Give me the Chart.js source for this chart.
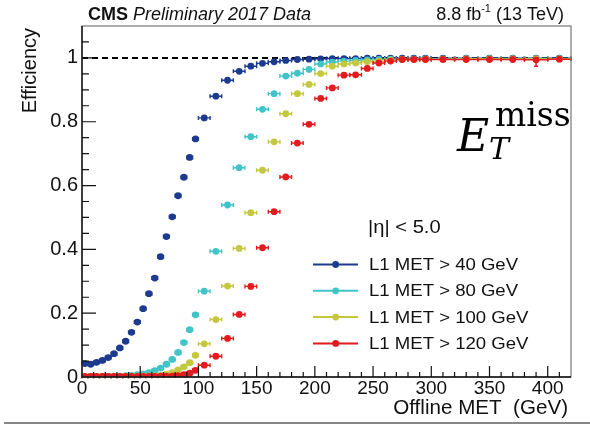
<!DOCTYPE html>
<html>
<head>
<meta charset="utf-8">
<script src="https://cdn.jsdelivr.net/npm/chart.js@4.4.1/dist/chart.umd.min.js"></script>
<style>
  html, body { margin: 0; padding: 0; background: #fff; }
</style>
</head>
<body>
<canvas id="eff" width="590" height="429"></canvas>
<script>
// ===== Turn-on data: L1 MET trigger efficiency vs offline MET =====
const metBins = [
  2.5, 7.5, 12.5, 17.5, 22.5, 27.5, 32.5, 37.5, 42.5, 47.5,
  52.5, 57.5, 62.5, 67.5, 72.5, 77.5, 82.5, 87.5, 92.5, 97.5,
  105, 115, 125, 135, 145, 155, 165, 175, 185, 195,
  205, 215, 225, 235, 245, 255, 265, 275, 285, 295,
  310, 330, 350, 370, 390, 410
];
const metHalfWidth = [
  2.5, 2.5, 2.5, 2.5, 2.5, 2.5, 2.5, 2.5, 2.5, 2.5,
  2.5, 2.5, 2.5, 2.5, 2.5, 2.5, 2.5, 2.5, 2.5, 2.5,
  5, 5, 5, 5, 5, 5, 5, 5, 5, 5,
  5, 5, 5, 5, 5, 5, 5, 5, 5, 5,
  10, 10, 10, 10, 10, 10
];

const effMet40 = [
  0.042, 0.040, 0.046, 0.052, 0.061, 0.073, 0.091, 0.112, 0.140, 0.172,
  0.214, 0.261, 0.310, 0.377, 0.440, 0.502, 0.568, 0.626, 0.688, 0.746,
  0.812, 0.880, 0.930, 0.958, 0.974, 0.983, 0.988, 0.992, 0.995, 0.996,
  0.997, 0.998, 0.998, 0.998, 0.999, 0.999, 0.999, 0.999, 0.999, 0.999,
  0.999, 0.999, 0.999, 0.999, 0.999, 0.999
];
const effMet80 = [
  0.002, 0.002, 0.002, 0.002, 0.002, 0.003, 0.003, 0.004, 0.005, 0.007,
  0.010, 0.014, 0.020, 0.028, 0.040, 0.055, 0.077, 0.108, 0.148, 0.195,
  0.269, 0.394, 0.539, 0.656, 0.753, 0.839, 0.888, 0.943, 0.952, 0.964,
  0.981, 0.987, 0.990, 0.992, 0.994, 0.995, 0.996, 0.996, 0.997, 0.997,
  0.997, 0.998, 0.998, 0.998, 0.998, 0.998
];
const effMet100 = [
  0.002, 0.002, 0.002, 0.002, 0.002, 0.002, 0.002, 0.002, 0.002, 0.003,
  0.003, 0.003, 0.004, 0.005, 0.008, 0.014, 0.022, 0.032, 0.045, 0.068,
  0.104, 0.180, 0.285, 0.403, 0.515, 0.648, 0.737, 0.825, 0.888, 0.917,
  0.951, 0.974, 0.981, 0.984, 0.988, 0.990, 0.993, 0.995, 0.995, 0.996,
  0.996, 0.997, 0.997, 0.997, 0.997, 0.997
];
const effMet120 = [
  0.002, 0.002, 0.002, 0.002, 0.002, 0.002, 0.002, 0.002, 0.002, 0.002,
  0.002, 0.002, 0.002, 0.003, 0.003, 0.003, 0.004, 0.007, 0.012, 0.021,
  0.037, 0.065, 0.121, 0.196, 0.284, 0.405, 0.518, 0.627, 0.733, 0.792,
  0.873, 0.906, 0.946, 0.947, 0.967, 0.984, 0.990, 0.995, 0.995, 0.995,
  0.995, 0.995, 0.995, 0.995, 0.994, 0.996
];
// downward stat. errors large enough to show (MET, error)
const met120ErrDown = [[370, 0.006], [390, 0.02], [410, 0.006]];

const seriesLabels = ['L1 MET > 40 GeV', 'L1 MET > 80 GeV', 'L1 MET > 100 GeV', 'L1 MET > 120 GeV'];
const seriesColors = ['#1c3a8e', '#40c4c8', '#c4c83e', '#e31b1e'];
const seriesValues = [effMet40, effMet80, effMet100, effMet120];

const xTickStep = 50;
const yTickStep = 0.2;

const FONT = '"Liberation Sans", Arial, Helvetica, sans-serif';

function points(values) {
  return metBins.map((x, i) => ({ x, y: values[i], xerr: metHalfWidth[i] }));
}

const datasets = seriesValues.map((vals, i) => ({
  label: seriesLabels[i],
  data: points(vals),
  showLine: false,
  pointRadius: 3.4,
  pointBackgroundColor: seriesColors[i],
  pointBorderWidth: 0,
  borderColor: seriesColors[i],
  backgroundColor: seriesColors[i],
  order: 4 - i,            // L1 MET > 120 on top
  inLegend: true
}));

// efficiency = 1 reference
datasets.push({
  label: 'unity',
  data: [{ x: 0, y: 1 }, { x: 420, y: 1 }],
  showLine: true,
  borderColor: '#000',
  borderWidth: 2,
  borderDash: [6, 4],
  pointRadius: 0,
  order: 10,
  inLegend: false
});

// text squeezed/stretched horizontally like the ROOT output
function wideText(ctx, text, x, y, sx) {
  ctx.save();
  ctx.translate(x, y);
  ctx.scale(sx, 1);
  ctx.fillText(text, 0, 0);
  ctx.restore();
}

// horizontal bin-width bars with end caps (ROOT style)
const errorBars = {
  id: 'errorBars',
  beforeDatasetDraw(chart, args) {
    const ds = chart.data.datasets[args.index];
    if (!ds.inLegend) return;
    const { ctx, scales: { x, y } } = chart;
    ctx.save();
    ctx.strokeStyle = ds.borderColor;
    ctx.lineWidth = 1.4;
    ds.data.forEach(p => {
      const py = y.getPixelForValue(p.y);
      const x0 = x.getPixelForValue(p.x - p.xerr);
      const x1 = x.getPixelForValue(p.x + p.xerr);
      ctx.beginPath();
      ctx.moveTo(x0, py); ctx.lineTo(x1, py);
      ctx.moveTo(x0, py - 2); ctx.lineTo(x0, py + 2);
      ctx.moveTo(x1, py - 2); ctx.lineTo(x1, py + 2);
      ctx.stroke();
    });
    if (args.index === 3) {
      met120ErrDown.forEach(([mx, e]) => {
        const i = metBins.indexOf(mx);
        const px = x.getPixelForValue(mx);
        const y0 = y.getPixelForValue(effMet120[i]);
        const y1 = y.getPixelForValue(effMet120[i] - e);
        ctx.beginPath();
        ctx.moveTo(px, y0); ctx.lineTo(px, y1);
        ctx.moveTo(px - 2, y1); ctx.lineTo(px + 2, y1);
        ctx.stroke();
      });
    }
    ctx.restore();
  }
};

// frame, inward ticks, titles, legend, labels
const rootDecor = {
  id: 'rootDecor',
  afterDraw(chart) {
    const { ctx, chartArea: a, scales: { x, y } } = chart;
    ctx.save();

    // frame
    ctx.strokeStyle = '#777';
    ctx.lineWidth = 1.2;
    ctx.strokeRect(a.left, a.top, a.right - a.left, a.bottom - a.top);
    ctx.strokeStyle = '#111';
    ctx.lineWidth = 1.4;
    ctx.beginPath();
    ctx.moveTo(a.left, a.top); ctx.lineTo(a.left, a.bottom); ctx.lineTo(a.right, a.bottom);
    ctx.stroke();

    // ticks pointing into the frame
    ctx.lineWidth = 1.2;
    ctx.beginPath();
    for (let v = 10; v < x.max; v += 10) {
      const px = x.getPixelForValue(v);
      const len = v % xTickStep === 0 ? 11 : 5;
      ctx.moveTo(px, a.bottom); ctx.lineTo(px, a.bottom - len);
    }
    for (let k = 1; k * 0.05 < y.max; k++) {
      const py = y.getPixelForValue(k * 0.05);
      const len = k % 4 === 0 ? 14 : 7;
      ctx.moveTo(a.left, py); ctx.lineTo(a.left + len, py);
    }
    ctx.stroke();

    ctx.fillStyle = '#111';

    // header
    ctx.textBaseline = 'alphabetic';
    ctx.textAlign = 'left';
    ctx.font = 'bold 18px ' + FONT;
    ctx.fillText('CMS', 88, 20);
    const cmsW = ctx.measureText('CMS ').width;
    ctx.font = 'italic 18px ' + FONT;
    ctx.fillText('Preliminary 2017 Data', 88 + cmsW, 20);

    // luminosity label, right aligned with a superscript
    ctx.font = '18px ' + FONT;
    const partA = '8.8 fb', partC = ' (13 TeV)';
    const wA = ctx.measureText(partA).width, wC = ctx.measureText(partC).width;
    ctx.font = '11px ' + FONT;
    const wB = ctx.measureText('-1').width;
    let lx = 564 - wA - wB - wC;
    ctx.font = '18px ' + FONT;
    ctx.fillText(partA, lx, 20);
    ctx.font = '11px ' + FONT;
    ctx.fillText('-1', lx + wA, 12);
    ctx.font = '18px ' + FONT;
    ctx.fillText(partC, lx + wA + wB, 20);

    // axis titles
    ctx.font = '20px ' + FONT;
    ctx.textAlign = 'right';
    wideText(ctx, 'Offline MET  (GeV)', 568, 414, 1.03);
    ctx.save();
    ctx.translate(36, 28);
    ctx.rotate(-Math.PI / 2);
    ctx.fillText('Efficiency', 0, 0);
    ctx.restore();

    // pseudorapidity cut
    ctx.textAlign = 'left';
    ctx.font = '18px ' + FONT;
    wideText(ctx, '|\u03B7| < 5.0', 368, 233, 1.12);

    // legend
    ctx.font = '16px ' + FONT;
    ctx.textBaseline = 'middle';
    let row = 0;
    chart.data.datasets.forEach(ds => {
      if (!ds.inLegend) return;
      const ly = 264.5 + row * 26.3;
      ctx.strokeStyle = ds.borderColor;
      ctx.lineWidth = 2;
      ctx.beginPath();
      ctx.moveTo(313, ly); ctx.lineTo(358, ly);
      ctx.stroke();
      ctx.fillStyle = ds.borderColor;
      ctx.beginPath();
      ctx.arc(335.7, ly, 3.4, 0, Math.PI * 2);
      ctx.fill();
      ctx.fillStyle = '#111';
      wideText(ctx, ds.label, 369, ly + 1, 1.16);
      row++;
    });

    // E_T^miss symbol
    ctx.textBaseline = 'alphabetic';
    ctx.fillStyle = '#000';
    ctx.font = 'italic 44px "DejaVu Serif", serif';
    ctx.fillText('E', 457, 151);
    ctx.font = 'italic 30px "DejaVu Serif", serif';
    ctx.fillText('T', 489, 159);
    ctx.font = '33px "DejaVu Serif", serif';
    ctx.fillText('miss', 495, 126);

    // page rule under the figure
    ctx.strokeStyle = '#888';
    ctx.lineWidth = 2;
    ctx.beginPath();
    ctx.moveTo(4, 423); ctx.lineTo(590, 423);
    ctx.stroke();

    ctx.restore();
  }
};

new Chart(document.getElementById('eff'), {
  type: 'scatter',
  data: { datasets },
  options: {
    responsive: false,
    animation: false,
    layout: { padding: { left: 0, top: 26, right: 19, bottom: 0 } },
    plugins: { legend: { display: false }, tooltip: { enabled: false } },
    scales: {
      x: {
        type: 'linear', min: 0, max: 420,
        grid: { display: false, drawTicks: false },
        border: { display: false },
        ticks: {
          stepSize: xTickStep, includeBounds: false, padding: 0,
          maxRotation: 0, autoSkip: false, color: '#111',
          font: { family: FONT, size: 19 }
        },
        afterFit: s => { s.height = 52; }
      },
      y: {
        type: 'linear', min: 0, max: 1.1,
        grid: { display: false, drawTicks: false },
        border: { display: false },
        ticks: {
          stepSize: yTickStep, includeBounds: false, padding: 4,
          autoSkip: false, color: '#111',
          font: { family: FONT, size: 20 },
          callback: v => String(Math.round(v * 10) / 10)
        },
        afterFit: s => { s.width = 82; }
      }
    }
  },
  plugins: [errorBars, rootDecor]
});
</script>
</body>
</html>
